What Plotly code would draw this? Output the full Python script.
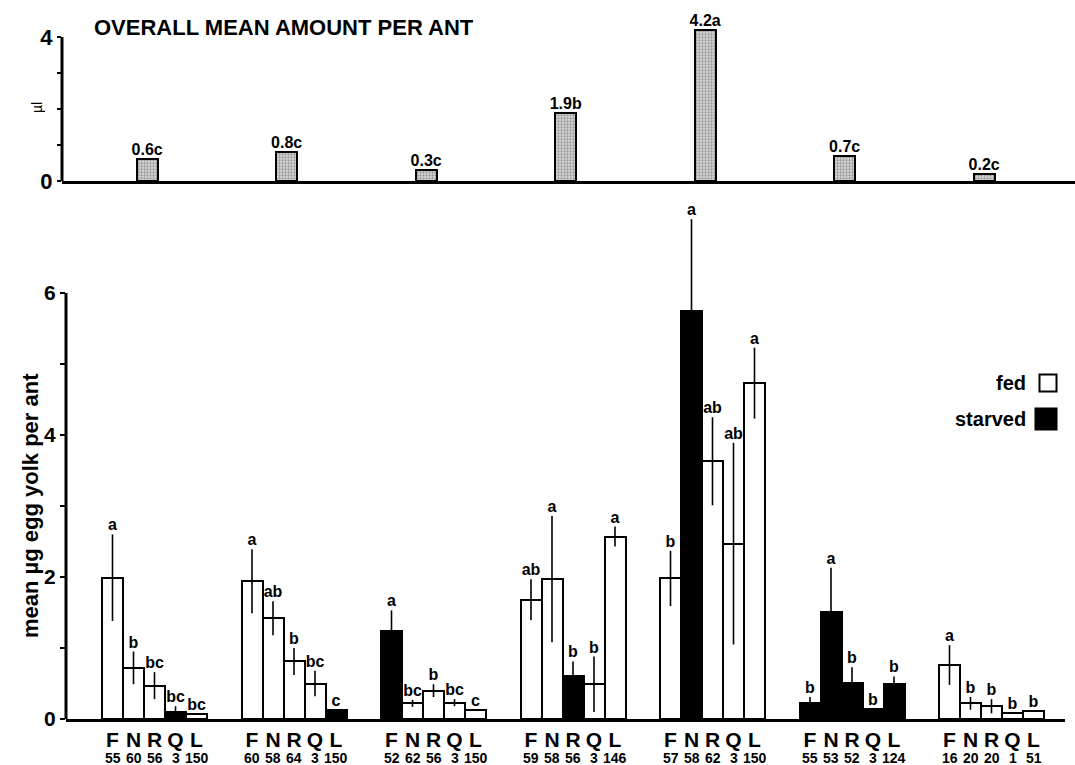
import plotly.graph_objects as go

# ---------------- data ----------------
bar_labels = ["F", "N", "R", "Q", "L"]

# mean µg egg yolk per ant, one list per group (F, N, R, Q, L)
mean_yolk = [
    [1.99, 0.72, 0.47, 0.10, 0.07],
    [1.94, 1.42, 0.81, 0.50, 0.13],
    [1.24, 0.22, 0.40, 0.23, 0.12],
    [1.68, 1.97, 0.61, 0.49, 2.57],
    [1.98, 5.74, 3.63, 2.47, 4.73],
    [0.23, 1.51, 0.51, 0.14, 0.50],
    [0.76, 0.22, 0.18, 0.09, 0.11],
]
err_yolk = [
    [0.61, 0.23, 0.19, 0.08, 0.00],
    [0.45, 0.24, 0.19, 0.18, 0.00],
    [0.29, 0.05, 0.09, 0.05, 0.00],
    [0.29, 0.89, 0.20, 0.39, 0.14],
    [0.39, 1.30, 0.62, 1.42, 0.50],
    [0.08, 0.62, 0.22, 0.00, 0.10],
    [0.28, 0.09, 0.10, 0.00, 0.00],
]
sig_letters = [
    ["a", "b", "bc", "bc", "bc"],
    ["a", "ab", "b", "bc", "c"],
    ["a", "bc", "b", "bc", "c"],
    ["ab", "a", "b", "b", "a"],
    ["b", "a", "ab", "ab", "a"],
    ["b", "a", "b", "b", "b"],
    ["a", "b", "b", "b", "b"],
]
condition = [
    ["fed", "fed", "fed", "starved", "fed"],
    ["fed", "fed", "fed", "fed", "starved"],
    ["starved", "fed", "fed", "fed", "fed"],
    ["fed", "fed", "starved", "fed", "fed"],
    ["fed", "starved", "fed", "fed", "fed"],
    ["starved", "starved", "starved", "starved", "starved"],
    ["fed", "fed", "fed", "fed", "fed"],
]
sample_n = [
    [55, 60, 56, 3, 150],
    [60, 58, 64, 3, 150],
    [52, 62, 56, 3, 150],
    [59, 58, 56, 3, 146],
    [57, 58, 62, 3, 150],
    [55, 53, 52, 3, 124],
    [16, 20, 20, 1, 51],
]

# overall mean amount per ant (µl)
overall_mean = [0.6, 0.8, 0.3, 1.9, 4.2, 0.7, 0.2]
overall_letters = ["c", "c", "c", "b", "a", "c", "c"]

legend_names = ["fed", "starved"]
legend_fills = ["white", "black"]

# ---------------- layout constants ----------------
W, H = 1075, 765
BAR_PX = 21.0            # bar width in pixels
GROUP_GAP = 139.5 / BAR_PX
X0_PX = 102.0            # pixel of the first group's left edge
TOP_OFFSET = 2.15        # top-panel bar centre within a group (bar units)
FONT = "Liberation Sans"


def px2x(px):
    return (px - X0_PX) / BAR_PX


def fy(py):
    return 1 - py / H


fig = go.Figure()

# ---------------- bottom panel bars ----------------
for cond, fill in zip(legend_names, legend_fills):
    xs, ys, es = [], [], []
    for g, (vals, errs, conds) in enumerate(zip(mean_yolk, err_yolk, condition)):
        for b, (v, e, c) in enumerate(zip(vals, errs, conds)):
            if c == cond:
                xs.append(g * GROUP_GAP + b + 0.5)
                ys.append(v)
                es.append(e)
    fig.add_trace(go.Bar(
        x=xs, y=ys, width=1.0, name=cond,
        marker=dict(color=fill, line=dict(color="black", width=2)),
        error_y=dict(type="data", array=es, width=0, thickness=1.6, color="black"),
        showlegend=False, xaxis="x", yaxis="y",
    ))

# significance letters
lx, ly, lt = [], [], []
for g, (vals, errs, lets) in enumerate(zip(mean_yolk, err_yolk, sig_letters)):
    for b, (v, e, t) in enumerate(zip(vals, errs, lets)):
        lx.append(g * GROUP_GAP + b + 0.5)
        ly.append(v + e)
        lt.append(t)
fig.add_trace(go.Scatter(
    x=lx, y=ly, text=lt, mode="text", textposition="top center",
    textfont=dict(family=FONT, size=16, color="black", weight="bold"),
    cliponaxis=False, showlegend=False, hoverinfo="skip", xaxis="x", yaxis="y",
))

# ---------------- top panel ----------------
top_x = [g * GROUP_GAP + TOP_OFFSET for g in range(len(overall_mean))]
fig.add_trace(go.Bar(
    x=top_x, y=overall_mean, width=1.0,
    marker=dict(color="#c8c8c8", line=dict(color="black", width=2),
                pattern=dict(shape=".", size=3, solidity=0.45, fgcolor="#555555",
                             bgcolor="#d8d8d8")),
    showlegend=False, xaxis="x2", yaxis="y2",
))
fig.add_trace(go.Scatter(
    x=top_x, y=overall_mean,
    text=[f"{v}{l}" for v, l in zip(overall_mean, overall_letters)],
    mode="text", textposition="top center",
    textfont=dict(family=FONT, size=16, color="black", weight="bold"),
    cliponaxis=False, showlegend=False, hoverinfo="skip", xaxis="x2", yaxis="y2",
))

# ---------------- legend (text left of square) ----------------
leg_y = [(719 - 383) / 71, (719 - 419) / 71]
fig.add_trace(go.Scatter(
    x=[px2x(1048), px2x(1046)], y=leg_y, mode="markers",
    marker=dict(symbol="square", size=[17, 21], color=legend_fills, opacity=1,
                line=dict(color="black", width=2)),
    showlegend=False, hoverinfo="skip", xaxis="x", yaxis="y", cliponaxis=False,
))
for name, yv in zip(legend_names, leg_y):
    fig.add_annotation(x=px2x(1028), y=yv, xref="x", yref="y", text=name,
                       showarrow=False, xanchor="right", yanchor="middle",
                       font=dict(family=FONT, size=20, color="black", weight="bold"))

# ---------------- axes ----------------
centers = [g * GROUP_GAP + b + 0.5 for g in range(len(mean_yolk)) for b in range(len(bar_labels))]
tick_letters = [bar_labels[b] for g in range(len(mean_yolk)) for b in range(len(bar_labels))]

bottom_y_top_px = 215
fig.update_layout(
    width=W, height=H,
    margin=dict(l=0, r=0, t=0, b=0, pad=0, autoexpand=False),
    paper_bgcolor="white", plot_bgcolor="white",
    barmode="overlay", bargap=0, showlegend=False,
    font=dict(family=FONT, color="black"),
    xaxis=dict(
        domain=[66 / W, 1065 / W], range=[px2x(66), px2x(1065)], automargin=False,
        showline=True, linewidth=3, linecolor="black", showgrid=False, zeroline=False,
        tickmode="array", tickvals=centers, ticktext=tick_letters, ticks="",
        tickfont=dict(family=FONT, size=21, color="black", weight="bold"),
        anchor="y",
    ),
    yaxis=dict(
        domain=[fy(719), fy(bottom_y_top_px)], range=[0, (719 - bottom_y_top_px) / 71],
        automargin=False,
        showline=False, showgrid=False, zeroline=False,
        tickmode="array", tickvals=[0, 1, 2, 3, 4, 5, 6],
        ticktext=["0", "", "2", "", "4", "", "6"],
        ticks="outside", ticklen=5, tickwidth=2, tickcolor="black",
        tickfont=dict(family=FONT, size=21, color="black", weight="bold"),
        anchor="x",
    ),
    xaxis2=dict(
        domain=[62 / W, 1.0], range=[px2x(62), px2x(1075)], automargin=False,
        showline=True, linewidth=3, linecolor="black", showgrid=False, zeroline=False,
        showticklabels=False, ticks="", anchor="y2",
    ),
    yaxis2=dict(
        domain=[fy(181), fy(15)], range=[0, (181 - 15) / 36], automargin=False,
        showline=False, showgrid=False, zeroline=False,
        tickmode="array", tickvals=[0, 1, 2, 3, 4], ticktext=["0", "", "", "", "4"],
        ticks="outside", ticklen=4, tickwidth=2, tickcolor="black",
        tickfont=dict(family=FONT, size=22, color="black", weight="bold"),
        anchor="x2",
    ),
)

# y axis lines that stop at the top tick
fig.add_shape(type="line", xref="paper", yref="y", x0=66 / W, x1=66 / W, y0=0, y1=6,
              line=dict(color="black", width=3))
fig.add_shape(type="line", xref="paper", yref="y2", x0=62 / W, x1=62 / W, y0=0, y1=4,
              line=dict(color="black", width=3))

# sample sizes under the category letters
for g, ns in enumerate(sample_n):
    for b, n in enumerate(ns):
        fig.add_annotation(
            x=g * GROUP_GAP + b + 0.5, xref="x", y=fy(758), yref="paper",
            text=str(n), showarrow=False, xanchor="center", yanchor="middle",
            font=dict(family=FONT, size=14, color="black", weight="bold"),
        )

# titles
fig.add_annotation(x=92 / W, y=fy(28), xref="paper", yref="paper",
                   text="OVERALL MEAN AMOUNT PER ANT", showarrow=False,
                   xanchor="left", yanchor="middle",
                   font=dict(family=FONT, size=22, color="black", weight="bold"))
fig.add_annotation(x=37 / W, y=fy(108), xref="paper", yref="paper",
                   text="µl", showarrow=False, textangle=-90,
                   xanchor="center", yanchor="middle",
                   font=dict(family=FONT, size=14, color="black"))
fig.add_annotation(x=30 / W, y=fy(506), xref="paper", yref="paper",
                   text="mean µg egg yolk per ant", showarrow=False, textangle=-90,
                   xanchor="center", yanchor="middle",
                   font=dict(family=FONT, size=22, color="black", weight="bold"))

fig.write_html(
    "out.html",
    config={"displayModeBar": False},
    post_script=(
        "document.documentElement.style.margin='0';"
        "document.body.style.margin='0';document.body.style.padding='0';"
        "var d=document.getElementById('{plot_id}');"
        "d.style.position='fixed';d.style.left='0px';d.style.top='0px';"
    ),
)
